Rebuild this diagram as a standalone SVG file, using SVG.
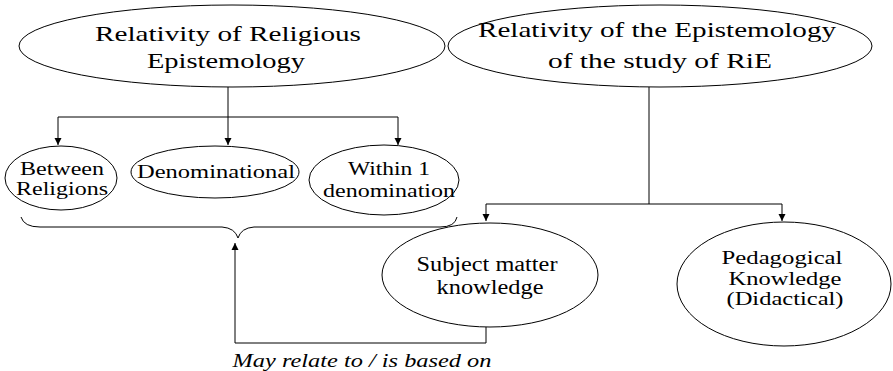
<svg xmlns="http://www.w3.org/2000/svg" width="893" height="371" viewBox="0 0 893 371">
<style>
.n{fill:#fff;stroke:#000;stroke-width:1}
.t{fill:#000;text-anchor:middle}
.c{fill:none;stroke:#000;stroke-width:1}
</style>
<defs>
<marker id="ah" markerWidth="8" markerHeight="8" refX="7" refY="4" orient="auto" markerUnits="userSpaceOnUse">
<path d="M0,0.5 L7,4 L0,7.5 Z" fill="#000"/>
</marker>
</defs>
<rect width="893" height="371" fill="#fff"/>
<g id="connectors">
<path class="c" d="M228,87 V117 M58,117 H398"/>
<path class="c" d="M58,117 V145" marker-end="url(#ah)"/>
<path class="c" d="M228,117 V145" marker-end="url(#ah)"/>
<path class="c" d="M398,117 V145" marker-end="url(#ah)"/>
<path class="c" d="M649,87 V204 M486,204 H782"/>
<path class="c" d="M486,204 V221" marker-end="url(#ah)"/>
<path class="c" d="M782,204 V221" marker-end="url(#ah)"/>
<path class="c" d="M21,217 Q24,227 40,227 H222 Q235,228 238,238 Q241,228 254,227 H440 Q455,227 457,217"/>
<path class="c" d="M486,327 V343 H235 V243" marker-end="url(#ah)"/>
</g>
<g font-family="Liberation Serif, Times New Roman, serif">
<g id="n1" font-size="21">
<ellipse class="n" cx="232" cy="46" rx="213" ry="41"/>
<text class="t" x="228" y="41" textLength="266" lengthAdjust="spacingAndGlyphs">Relativity of Religious</text>
<text class="t" x="226" y="68" textLength="158" lengthAdjust="spacingAndGlyphs">Epistemology</text>
</g>
<g id="n2" font-size="21">
<ellipse class="n" cx="660" cy="46" rx="212" ry="41"/>
<text class="t" x="657" y="37" textLength="358" lengthAdjust="spacingAndGlyphs">Relativity of the Epistemology</text>
<text class="t" x="660" y="68" textLength="224" lengthAdjust="spacingAndGlyphs">of the study of RiE</text>
</g>
<g id="n3" font-size="18">
<ellipse class="n" cx="61" cy="178" rx="56" ry="32"/>
<text class="t" x="62" y="174.5" textLength="84" lengthAdjust="spacingAndGlyphs">Between</text>
<text class="t" x="62" y="195" textLength="92" lengthAdjust="spacingAndGlyphs">Religions</text>
</g>
<g id="n4" font-size="18">
<ellipse class="n" cx="215" cy="172" rx="84" ry="26"/>
<text class="t" x="216" y="178" textLength="158" lengthAdjust="spacingAndGlyphs">Denominational</text>
</g>
<g id="n5" font-size="18">
<ellipse class="n" cx="384" cy="180" rx="75" ry="35"/>
<text class="t" x="389" y="175" textLength="82" lengthAdjust="spacingAndGlyphs">Within 1</text>
<text class="t" x="389" y="196.5" textLength="132" lengthAdjust="spacingAndGlyphs">denomination</text>
</g>
<g id="n6" font-size="20">
<ellipse class="n" cx="490" cy="275" rx="108" ry="52"/>
<text class="t" x="487" y="271" textLength="141" lengthAdjust="spacingAndGlyphs">Subject matter</text>
<text class="t" x="490" y="293.5" textLength="107" lengthAdjust="spacingAndGlyphs">knowledge</text>
</g>
<g id="n7" font-size="18.5">
<ellipse class="n" cx="784" cy="284" rx="107" ry="62"/>
<text class="t" x="782" y="264" textLength="121" lengthAdjust="spacingAndGlyphs">Pedagogical</text>
<text class="t" x="785" y="284.5" textLength="113" lengthAdjust="spacingAndGlyphs">Knowledge</text>
<text class="t" x="785" y="305" textLength="117" lengthAdjust="spacingAndGlyphs">(Didactical)</text>
</g>
<text class="t" x="362" y="367" font-size="19" font-style="italic" textLength="259" lengthAdjust="spacingAndGlyphs">May relate to / is based on</text>
</g>
</svg>
